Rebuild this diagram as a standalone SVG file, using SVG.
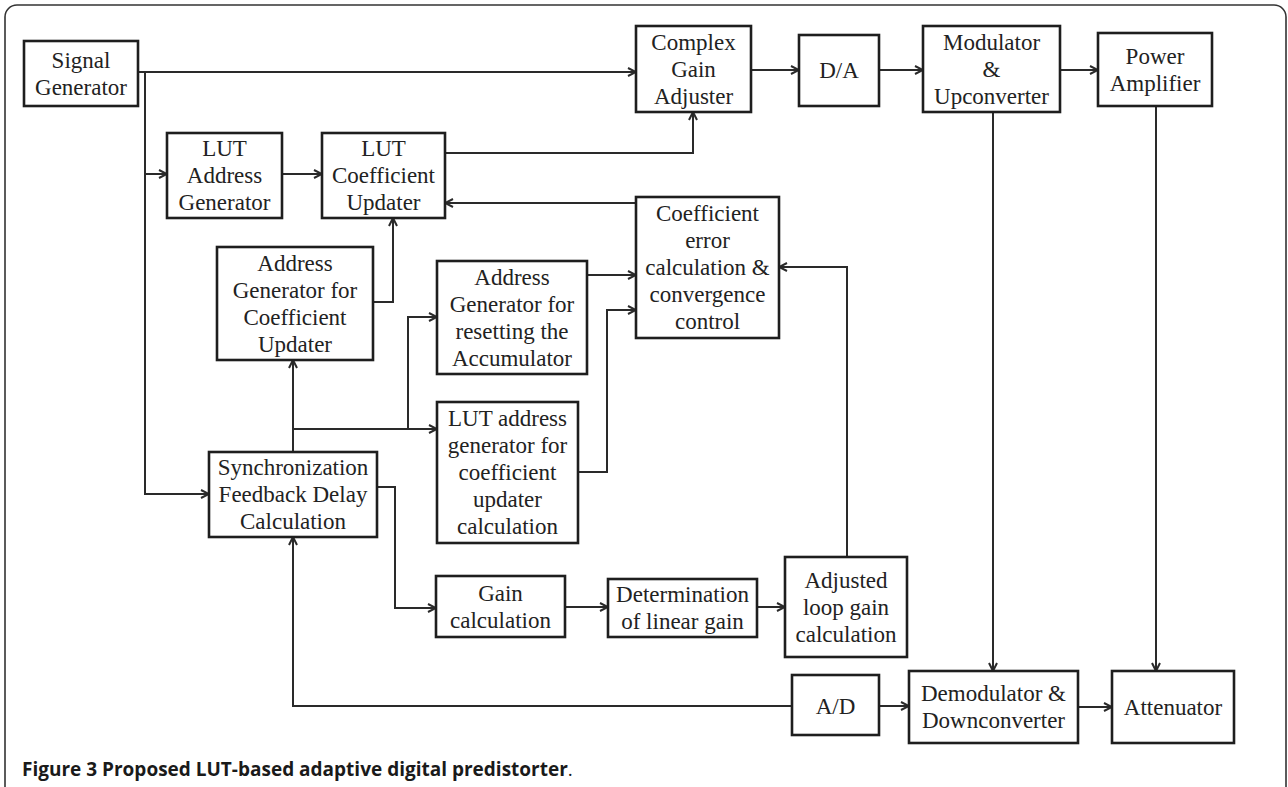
<svg xmlns="http://www.w3.org/2000/svg" width="1288" height="787" viewBox="0 0 1288 787">
<style>
.box{fill:#fff;stroke:#1e1e1e;stroke-width:2.6}
.lbl{font-family:"Liberation Serif","Times New Roman",serif;font-size:23px;fill:#222;text-anchor:middle}
.wire{fill:none;stroke:#2a2a2a;stroke-width:2}
.cap{font-family:"Open Sans","Noto Sans",sans-serif;font-size:19px;fill:#1a1a1a;font-weight:bold}
</style>
<defs>
<marker id="arr" viewBox="0 0 10 10" refX="9.5" refY="5" markerWidth="10" markerHeight="10" markerUnits="userSpaceOnUse" orient="auto">
<path d="M1.5,1 L9.5,5 L1.5,9" fill="none" stroke="#2a2a2a" stroke-width="2"/>
</marker>
</defs>
<rect width="1288" height="787" fill="#fff"/>
<path d="M5,787 V17 A12,12 0 0 1 17,5 H1274 A12,12 0 0 1 1286,17 V787" fill="none" stroke="#333" stroke-width="1.6"/>

<g id="connectors">
<path class="wire" d="M138,72 H636" marker-end="url(#arr)"/>
<path class="wire" d="M145,72 V494 H209" marker-end="url(#arr)"/>
<path class="wire" d="M145,174 H167" marker-end="url(#arr)"/>
<path class="wire" d="M282,174 H322" marker-end="url(#arr)"/>
<path class="wire" d="M445,153 H693 V112" marker-end="url(#arr)"/>
<path class="wire" d="M751,70 H799" marker-end="url(#arr)"/>
<path class="wire" d="M879,70 H923" marker-end="url(#arr)"/>
<path class="wire" d="M1060,70 H1098" marker-end="url(#arr)"/>
<path class="wire" d="M993,112 V671" marker-end="url(#arr)"/>
<path class="wire" d="M1156,106 V671" marker-end="url(#arr)"/>
<path class="wire" d="M636,203 H445" marker-end="url(#arr)"/>
<path class="wire" d="M373,302 H393 V218" marker-end="url(#arr)"/>
<path class="wire" d="M293,452 V360" marker-end="url(#arr)"/>
<path class="wire" d="M293,429 H437" marker-end="url(#arr)"/>
<path class="wire" d="M408,429 V317 H437" marker-end="url(#arr)"/>
<path class="wire" d="M587,275 H636" marker-end="url(#arr)"/>
<path class="wire" d="M578,472 H607 V310 H636" marker-end="url(#arr)"/>
<path class="wire" d="M847,557 V267 H779" marker-end="url(#arr)"/>
<path class="wire" d="M377,487 H395 V608 H436" marker-end="url(#arr)"/>
<path class="wire" d="M565,607 H608" marker-end="url(#arr)"/>
<path class="wire" d="M757,607 H785" marker-end="url(#arr)"/>
<path class="wire" d="M792,706 H293 V537" marker-end="url(#arr)"/>
<path class="wire" d="M879,706 H909" marker-end="url(#arr)"/>
<path class="wire" d="M1078,707 H1112" marker-end="url(#arr)"/>
</g>

<g id="signal-generator">
<rect class="box" x="24" y="41" width="114" height="65"/>
<text class="lbl" x="81" y="67.5">Signal</text>
<text class="lbl" x="81" y="94.5">Generator</text>
</g>
<g id="complex-gain-adjuster">
<rect class="box" x="636" y="26" width="115" height="86"/>
<text class="lbl" x="693.5" y="49.5">Complex</text>
<text class="lbl" x="693.5" y="76.5">Gain</text>
<text class="lbl" x="693.5" y="103.5">Adjuster</text>
</g>
<g id="da">
<rect class="box" x="799" y="35" width="80" height="71"/>
<text class="lbl" x="839" y="78">D/A</text>
</g>
<g id="modulator">
<rect class="box" x="923" y="26" width="137" height="86"/>
<text class="lbl" x="991.5" y="49.5">Modulator</text>
<text class="lbl" x="991.5" y="76.5">&amp;</text>
<text class="lbl" x="991.5" y="103.5">Upconverter</text>
</g>
<g id="power-amplifier">
<rect class="box" x="1098" y="33" width="114" height="73"/>
<text class="lbl" x="1155" y="63.5">Power</text>
<text class="lbl" x="1155" y="90.5">Amplifier</text>
</g>
<g id="lut-address-generator">
<rect class="box" x="167" y="133" width="115" height="85"/>
<text class="lbl" x="224.5" y="156">LUT</text>
<text class="lbl" x="224.5" y="183">Address</text>
<text class="lbl" x="224.5" y="210">Generator</text>
</g>
<g id="lut-coefficient-updater">
<rect class="box" x="322" y="133" width="123" height="85"/>
<text class="lbl" x="383.5" y="156">LUT</text>
<text class="lbl" x="383.5" y="183">Coefficient</text>
<text class="lbl" x="383.5" y="210">Updater</text>
</g>
<g id="coefficient-error">
<rect class="box" x="636" y="197" width="143" height="141"/>
<text class="lbl" x="707.5" y="221">Coefficient</text>
<text class="lbl" x="707.5" y="248">error</text>
<text class="lbl" x="707.5" y="275">calculation &amp;</text>
<text class="lbl" x="707.5" y="302">convergence</text>
<text class="lbl" x="707.5" y="329">control</text>
</g>
<g id="address-generator-coefficient">
<rect class="box" x="217" y="247" width="156" height="113"/>
<text class="lbl" x="295" y="270.5">Address</text>
<text class="lbl" x="295" y="297.5">Generator for</text>
<text class="lbl" x="295" y="324.5">Coefficient</text>
<text class="lbl" x="295" y="351.5">Updater</text>
</g>
<g id="address-generator-reset">
<rect class="box" x="437" y="261" width="150" height="113"/>
<text class="lbl" x="512" y="284.5">Address</text>
<text class="lbl" x="512" y="311.5">Generator for</text>
<text class="lbl" x="512" y="338.5">resetting the</text>
<text class="lbl" x="512" y="365.5">Accumulator</text>
</g>
<g id="lut-address-generator-coeff">
<rect class="box" x="437" y="402" width="141" height="141"/>
<text class="lbl" x="507.5" y="426">LUT address</text>
<text class="lbl" x="507.5" y="453">generator for</text>
<text class="lbl" x="507.5" y="480">coefficient</text>
<text class="lbl" x="507.5" y="507">updater</text>
<text class="lbl" x="507.5" y="534">calculation</text>
</g>
<g id="synchronization">
<rect class="box" x="209" y="452" width="168" height="85"/>
<text class="lbl" x="293" y="475">Synchronization</text>
<text class="lbl" x="293" y="502">Feedback Delay</text>
<text class="lbl" x="293" y="529">Calculation</text>
</g>
<g id="gain-calculation">
<rect class="box" x="436" y="576" width="129" height="61"/>
<text class="lbl" x="500.5" y="600.5">Gain</text>
<text class="lbl" x="500.5" y="627.5">calculation</text>
</g>
<g id="determination">
<rect class="box" x="608" y="579" width="149" height="58"/>
<text class="lbl" x="682.5" y="602">Determination</text>
<text class="lbl" x="682.5" y="629">of linear gain</text>
</g>
<g id="adjusted-loop-gain">
<rect class="box" x="785" y="557" width="122" height="100"/>
<text class="lbl" x="846" y="587.5">Adjusted</text>
<text class="lbl" x="846" y="614.5">loop gain</text>
<text class="lbl" x="846" y="641.5">calculation</text>
</g>
<g id="ad">
<rect class="box" x="792" y="675" width="87" height="60"/>
<text class="lbl" x="835.5" y="713.5">A/D</text>
</g>
<g id="demodulator">
<rect class="box" x="909" y="671" width="169" height="72"/>
<text class="lbl" x="993.5" y="700.5">Demodulator &amp;</text>
<text class="lbl" x="993.5" y="727.5">Downconverter</text>
</g>
<g id="attenuator">
<rect class="box" x="1112" y="671" width="122" height="72"/>
<text class="lbl" x="1173" y="714.5">Attenuator</text>
</g>

<text class="cap" x="22" y="776">Figure 3 Proposed LUT-based adaptive digital predistorter<tspan font-weight="normal">.</tspan></text>
</svg>
